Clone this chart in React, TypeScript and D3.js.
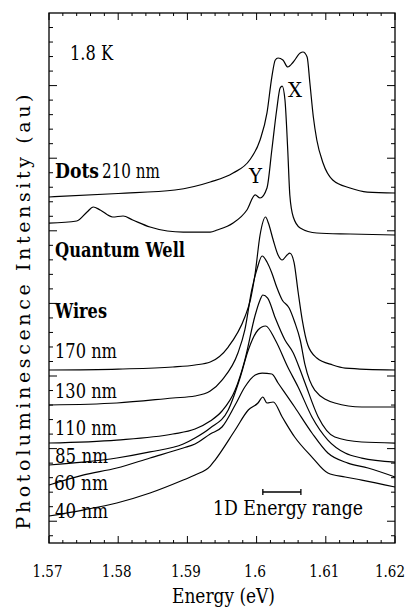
import * as React from 'react';
import * as d3 from 'd3';

// energy axis (eV)
const energyMajor = [1.57, 1.58, 1.59, 1.6, 1.61, 1.62];
const energyLabels = ['1.57', '1.58', '1.59', '1.6', '1.61', '1.62'];

// spectra: [energy eV, intensity au (offset stack)]
const dots210 = [
  [1.57, 4.466], [1.58, 4.514], [1.5882, 4.562], [1.5933, 4.672], [1.5966, 4.796],
  [1.599, 4.975], [1.6005, 5.251], [1.6015, 5.623], [1.6022, 6.118], [1.6027, 6.353],
  [1.6031, 6.38], [1.6038, 6.353], [1.6045, 6.256], [1.6053, 6.325], [1.6063, 6.449],
  [1.6067, 6.463], [1.6073, 6.394], [1.6077, 6.036], [1.6082, 5.567], [1.6087, 5.251],
  [1.6096, 4.934], [1.611, 4.7], [1.6135, 4.59], [1.616, 4.534], [1.62, 4.521]
];
const quantumWell = [
  [1.57, 4.107], [1.574, 4.135], [1.5755, 4.259], [1.5764, 4.328], [1.5774, 4.287],
  [1.5792, 4.19], [1.5807, 4.204], [1.5821, 4.149], [1.5846, 4.052], [1.5871, 3.997],
  [1.5894, 3.983], [1.5933, 3.983], [1.5943, 4.011], [1.5966, 4.107], [1.5986, 4.287],
  [1.5998, 4.494], [1.6005, 4.452], [1.6015, 4.59], [1.6022, 5.113], [1.6029, 5.664],
  [1.6034, 5.967], [1.6037, 5.994], [1.6041, 5.801], [1.6045, 5.113], [1.6048, 4.494],
  [1.6053, 4.19], [1.6063, 4.039], [1.6087, 3.97], [1.6135, 3.956], [1.62, 3.942]
];
const wires170 = [
  [1.57, 2.083], [1.58, 2.096], [1.5879, 2.124], [1.5911, 2.152], [1.5933, 2.193],
  [1.5959, 2.399], [1.5983, 2.813], [1.5991, 3.047], [1.5998, 3.419], [1.6005, 3.942],
  [1.6013, 4.19], [1.6017, 4.107], [1.6024, 3.873], [1.6031, 3.667], [1.6037, 3.598],
  [1.6044, 3.667], [1.6048, 3.694], [1.6054, 3.57], [1.606, 3.157], [1.6066, 2.771],
  [1.6074, 2.427], [1.6087, 2.248], [1.611, 2.152], [1.6128, 2.11], [1.62, 2.083]
];
const wires130 = [
  [1.57, 1.601], [1.5798, 1.628], [1.5879, 1.697], [1.5911, 1.725], [1.5933, 1.793],
  [1.595, 1.945], [1.5973, 2.317], [1.5983, 2.634], [1.5993, 3.185], [1.6001, 3.488],
  [1.6008, 3.653], [1.6015, 3.57], [1.6022, 3.419], [1.6029, 3.226], [1.6037, 3.047],
  [1.6047, 2.937], [1.6055, 2.744], [1.6063, 2.496], [1.607, 2.152], [1.6084, 1.807],
  [1.6113, 1.628], [1.6152, 1.573], [1.62, 1.573]
];
const wires110 = [
  [1.57, 1.077], [1.5798, 1.118], [1.5879, 1.201], [1.5911, 1.27], [1.5933, 1.38],
  [1.595, 1.518], [1.5969, 1.807], [1.5983, 2.22], [1.5998, 2.84], [1.6005, 3.047],
  [1.6009, 3.116], [1.6016, 3.074], [1.6027, 2.799], [1.6041, 2.496], [1.6053, 2.317],
  [1.6063, 2.083], [1.607, 1.904], [1.6089, 1.436], [1.6113, 1.16], [1.6152, 1.091],
  [1.62, 1.077]
];
const wires85 = [
  [1.57, 0.774], [1.5749, 0.815], [1.5798, 0.871], [1.5846, 0.954], [1.5894, 1.063],
  [1.5911, 1.146], [1.5933, 1.284], [1.5959, 1.532], [1.5976, 1.972], [1.5988, 2.358],
  [1.6002, 2.634], [1.6013, 2.689], [1.6027, 2.496], [1.6045, 2.124], [1.606, 1.849],
  [1.608, 1.436], [1.6103, 1.118], [1.6128, 0.939], [1.6152, 0.87], [1.62, 0.815]
];
const wires60 = [
  [1.57, 0.499], [1.5749, 0.636], [1.5798, 0.733], [1.5846, 0.871], [1.5894, 1.008],
  [1.5911, 1.063], [1.5933, 1.201], [1.595, 1.298], [1.5969, 1.601], [1.5983, 1.849],
  [1.5998, 2.014], [1.6008, 2.041], [1.6022, 2.028], [1.6031, 1.904], [1.6055, 1.573],
  [1.608, 1.215], [1.6103, 0.939], [1.6132, 0.801], [1.6161, 0.733], [1.62, 0.609]
];
const wires40 = [
  [1.57, 0.072], [1.5749, 0.154], [1.5798, 0.251], [1.5846, 0.388], [1.5894, 0.567],
  [1.5911, 0.636], [1.5933, 0.76], [1.594, 0.843], [1.5969, 1.256], [1.5988, 1.532],
  [1.6002, 1.628], [1.6009, 1.711], [1.6015, 1.628], [1.6024, 1.642], [1.6037, 1.435],
  [1.6055, 1.16], [1.608, 0.884], [1.6103, 0.664], [1.6128, 0.609], [1.6152, 0.567],
  [1.62, 0.471]
];
const spectra = [dots210, quantumWell, wires170, wires130, wires110, wires85, wires60, wires40];

// 1D energy range marker (eV)
const rangeBar = [1.6009, 1.6064];

const FONT = "'DejaVu Serif', serif";

export default function App() {
  const ref = React.useRef<SVGSVGElement>(null);

  React.useEffect(() => {
    const svg = d3.select(ref.current);
    svg.selectAll('*').remove();

    const left = 49, right = 395, top = 13, bottom = 543;
    const x = d3.scaleLinear().domain([1.57, 1.62]).range([left, right]);
    const y = d3.scaleLinear().domain([-0.3, 7]).range([bottom, top]);

    const g = svg.append('g');

    // frame
    g.append('rect')
      .attr('x', left).attr('y', top)
      .attr('width', right - left).attr('height', bottom - top)
      .attr('fill', 'none').attr('stroke', '#000').attr('stroke-width', 1.3);

    // x ticks (bottom and top, inward)
    const xTicks = d3.range(0, 26).map(i => 1.57 + i * 0.002);
    const isMajorX = (v: number) => Math.abs(v * 100 - Math.round(v * 100)) < 1e-6;
    xTicks.forEach(v => {
      const len = isMajorX(v) ? 7 : 3;
      g.append('line').attr('x1', x(v)).attr('x2', x(v)).attr('y1', bottom).attr('y2', bottom - len)
        .attr('stroke', '#000').attr('stroke-width', 1);
      g.append('line').attr('x1', x(v)).attr('x2', x(v)).attr('y1', top).attr('y2', top + len)
        .attr('stroke', '#000').attr('stroke-width', 1);
    });

    // y ticks (left and right, inward)
    const yTicks = d3.range(-1, 36).map(i => i * 0.2);
    yTicks.forEach(v => {
      if (y(v) > bottom - 1 || y(v) < top + 1) return;
      const major = Math.abs(v - Math.round(v)) < 1e-6;
      const len = major ? 8 : 4;
      g.append('line').attr('x1', left).attr('x2', left + len).attr('y1', y(v)).attr('y2', y(v))
        .attr('stroke', '#000').attr('stroke-width', 1);
      g.append('line').attr('x1', right).attr('x2', right - len).attr('y1', y(v)).attr('y2', y(v))
        .attr('stroke', '#000').attr('stroke-width', 1);
    });

    // tick labels (right-anchored so the last one stays inside the page)
    const labW = (i: number) => (energyLabels[i].length === 3 ? 22 : 30);
    g.selectAll('.xlab')
      .data(energyMajor)
      .enter()
      .append('text')
      .attr('x', (d, i) => Math.min(x(d) - 1.5 + labW(i) / 2, 405))
      .attr('y', 577)
      .attr('text-anchor', 'end')
      .attr('font-family', FONT)
      .attr('font-size', 17)
      .attr('textLength', (d, i) => labW(i))
      .attr('lengthAdjust', 'spacingAndGlyphs')
      .text((d, i) => energyLabels[i]);

    // spectra
    const line = d3.line<number[]>()
      .x(d => x(d[0]))
      .y(d => y(d[1]))
      .curve(d3.curveMonotoneX);
    g.selectAll('.spec')
      .data(spectra)
      .enter()
      .append('path')
      .attr('d', d => line(d))
      .attr('fill', 'none')
      .attr('stroke', '#000')
      .attr('stroke-width', 1.2)
      .attr('stroke-linejoin', 'round');

    // 1D energy range bar
    g.append('line')
      .attr('x1', x(rangeBar[0])).attr('x2', x(rangeBar[1]))
      .attr('y1', 492).attr('y2', 492)
      .attr('stroke', '#000').attr('stroke-width', 1.3);
    rangeBar.forEach(v => {
      g.append('line')
        .attr('x1', x(v)).attr('x2', x(v)).attr('y1', 489).attr('y2', 495)
        .attr('stroke', '#000').attr('stroke-width', 1.3);
    });

    // annotations
    const labels = [
      { t: '1.8 K', x: 70, y: 60, w: 43, b: false },
      { t: 'Dots', x: 55, y: 178, w: 44, b: true },
      { t: '210 nm', x: 102, y: 178, w: 58, b: false },
      { t: 'Quantum Well', x: 55, y: 257, w: 130, b: true },
      { t: 'Wires', x: 55, y: 318, w: 52, b: true },
      { t: '170 nm', x: 55, y: 358, w: 62, b: false },
      { t: '130 nm', x: 55, y: 398, w: 62, b: false },
      { t: '110 nm', x: 55, y: 435, w: 62, b: false },
      { t: '85 nm', x: 55, y: 463, w: 53, b: false },
      { t: '60 nm', x: 54, y: 490, w: 54, b: false },
      { t: '40 nm', x: 55, y: 518, w: 53, b: false },
      { t: 'Y', x: 249, y: 183, w: 13, b: false },
      { t: 'X', x: 288, y: 97, w: 14, b: false },
      { t: '1D Energy range', x: 213, y: 515, w: 150, b: false },
      { t: 'Energy (eV)', x: 172, y: 603, w: 103, b: false }
    ];
    g.selectAll('.ann')
      .data(labels)
      .enter()
      .append('text')
      .attr('x', d => d.x)
      .attr('y', d => d.y)
      .attr('font-family', FONT)
      .attr('font-size', 20)
      .attr('font-weight', d => (d.b ? 'bold' : 'normal'))
      .attr('textLength', d => d.w)
      .attr('lengthAdjust', 'spacingAndGlyphs')
      .text(d => d.t);

    // y title
    g.append('text')
      .attr('transform', 'translate(30, 312) rotate(-90)')
      .attr('text-anchor', 'middle')
      .attr('font-family', FONT)
      .attr('font-size', 19)
      .attr('textLength', 435)
      .attr('lengthAdjust', 'spacing')
      .text('Photoluminescence Intensity (au)');
  }, []);

  return (
    <svg
      ref={ref}
      width={412}
      height={612}
      style={{ position: 'absolute', left: 0, top: 0, background: '#fff' }}
    />
  );
}
